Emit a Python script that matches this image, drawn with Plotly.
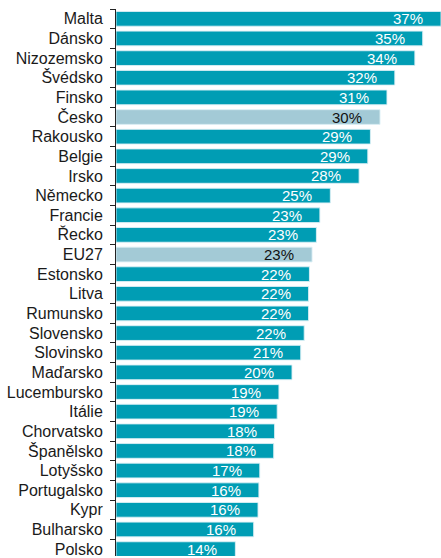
import plotly.graph_objects as go

countries = ["Malta", "Dánsko", "Nizozemsko", "Švédsko", "Finsko", "Česko", "Rakousko",
             "Belgie", "Irsko", "Německo", "Francie", "Řecko", "EU27", "Estonsko", "Litva",
             "Rumunsko", "Slovensko", "Slovinsko", "Maďarsko", "Lucembursko", "Itálie",
             "Chorvatsko", "Španělsko", "Lotyšsko", "Portugalsko", "Kypr", "Bulharsko", "Polsko"]
values = [37.3, 35.2, 34.3, 32.0, 31.1, 30.3, 29.2, 28.9, 27.9, 24.6, 23.4, 23.0, 22.5,
          22.2, 22.1, 22.1, 21.6, 21.2, 20.2, 18.7, 18.5, 18.2, 18.1, 16.5, 16.4, 16.3,
          15.8, 13.7]
labels = ["37%", "35%", "34%", "32%", "31%", "30%", "29%", "29%", "28%", "25%", "23%",
          "23%", "23%", "22%", "22%", "22%", "22%", "21%", "20%", "19%", "19%", "18%",
          "18%", "17%", "16%", "16%", "16%", "14%"]
highlight = ["Česko", "EU27"]

TEAL = "#009DB4"
LIGHT = "#A3CAD6"
colors = [LIGHT if c in highlight else TEAL for c in countries]
text_colors = ["#111111" if c in highlight else "white" for c in countries]

fig = go.Figure(go.Bar(
    x=values, y=countries, orientation="h",
    marker=dict(color=colors, line=dict(color="rgba(220,240,245,0.9)", width=1)),
    width=0.75, hoverinfo="skip",
))

for c, v, t, tc in zip(countries, values, labels, text_colors):
    fig.add_annotation(x=v, y=c, text=t, showarrow=False, xanchor="right",
                       xshift=-16, yshift=0,
                       font=dict(family="Liberation Sans, Arial, sans-serif", size=15, color=tc))

fig.update_layout(
    width=441, height=558,
    margin=dict(l=116, r=0, t=9, b=0),
    paper_bgcolor="white", plot_bgcolor="white",
    showlegend=False,
    font=dict(family="Liberation Sans, Arial, sans-serif", size=16, color="#1a1a1a"),
)
fig.update_xaxes(range=[0, 37.3], visible=False, fixedrange=True)
fig.update_yaxes(
    type="category", categoryorder="array", categoryarray=countries,
    range=[27.35, -0.5],
    showline=True, linecolor="#222222", linewidth=1,
    ticks="outside", tickson="boundaries", ticklen=5, tickcolor="#222222", tickwidth=1,
    ticklabelstandoff=9, showgrid=False, zeroline=False, fixedrange=True,
)

fig.write_html("out.html", config={"displayModeBar": False},
               post_script="document.body.style.margin='0';document.body.style.overflow='hidden';")
